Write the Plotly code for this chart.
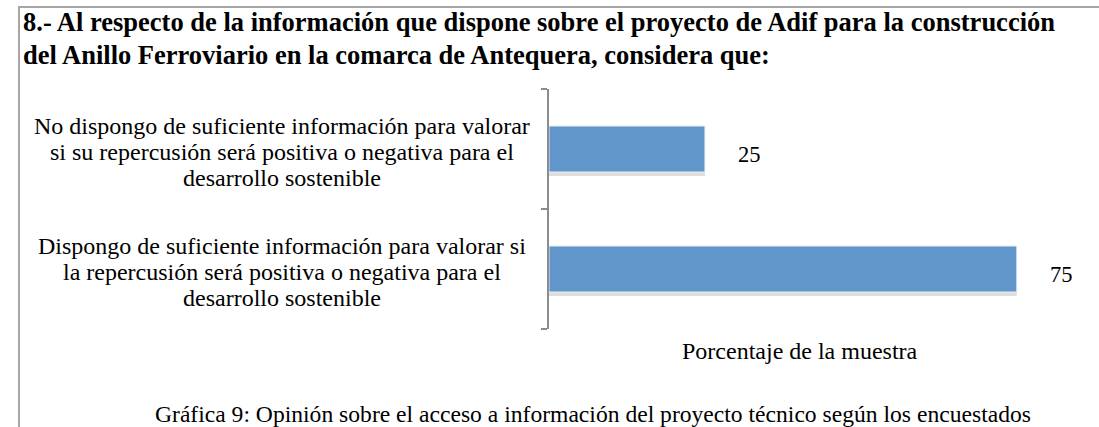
import plotly.graph_objects as go

# ---- data ----
categories = [
    "Dispongo de suficiente información para valorar si<br>la repercusión será positiva o negativa para el<br>desarrollo sostenible",
    "No dispongo de suficiente información para valorar<br>si su repercusión será positiva o negativa para el<br>desarrollo sostenible",
]
values = [75, 25]
title_lines = [
    "8.- Al respecto de la información que dispone sobre el proyecto de Adif para la construcción",
    "del Anillo Ferroviario en la comarca de Antequera, considera que:",
]
x_title = "Porcentaje de la muestra"
caption = "Gráfica 9: Opinión sobre el acceso a información del proyecto técnico según los encuestados"

W, H = 1099, 427
L, T = 549, 89
PW = 499           # x range 0..80
PH = 240           # plot bottom at 329
R, B = W - L - PW, H - T - PH

def px(x):
    return (x - L) / PW

def py(y):
    return 1 - (y - T) / PH

FONT = "Liberation Serif, Times New Roman, serif"
BAR = "#6096c9"
BW = 46 / 120      # bar thickness in category units

fig = go.Figure()
# soft shadow under bars
fig.add_trace(go.Bar(
    x=values, y=categories, orientation="h",
    width=BW, offset=-BW / 2 - 4 / 120,
    marker=dict(color="rgba(0,0,0,0.13)", line=dict(width=0)),
    hoverinfo="skip",
))
fig.add_trace(go.Bar(
    x=values, y=categories, orientation="h",
    width=BW, offset=-BW / 2,
    marker=dict(color=BAR, line=dict(color="#e8f0f8", width=1)),
    hoverinfo="x",
))

ann = []
LBL = dict(family=FONT, size=24, color="#000")
# category labels: each line centred on a common axis, tight line spacing
for c in categories:
    lines = c.split("<br>")
    n = len(lines)
    for i, line in enumerate(lines):
        ann.append(dict(x=px(282), y=c, xref="paper", yref="y", text=line, showarrow=False,
                        xanchor="center", yanchor="middle",
                        yshift=-((i - (n - 1) / 2) * 26 + 3),
                        font=LBL))
# value labels
for v, c in zip(values, categories):
    ann.append(dict(x=v, y=c, xref="x", yref="y", text=str(v), showarrow=False,
                    xanchor="center", yanchor="middle", xshift=45, yshift=-5,
                    font=dict(family=FONT, size=22.5, color="#000")))
# titles
TF = dict(family=FONT, size=26.5, color="#000")
ann.append(dict(x=px(21), y=py(22), xref="paper", yref="paper", text="<b>%s</b>" % title_lines[0],
                showarrow=False, xanchor="left", yanchor="middle", font=TF))
ann.append(dict(x=px(21), y=py(55), xref="paper", yref="paper", text="<b>%s</b>" % title_lines[1],
                showarrow=False, xanchor="left", yanchor="middle", font=TF))
# x axis title
ann.append(dict(x=px(800), y=py(351), xref="paper", yref="paper", text=x_title,
                showarrow=False, xanchor="center", yanchor="middle", font=LBL))
# caption
ann.append(dict(x=px(593), y=py(414), xref="paper", yref="paper", text=caption,
                showarrow=False, xanchor="center", yanchor="middle",
                font=dict(family=FONT, size=23.6, color="#000")))

shapes = [
    dict(type="line", xref="paper", yref="paper", x0=px(18), x1=px(1100), y0=py(7), y1=py(7),
         line=dict(color="#a6a6a6", width=2), layer="above"),
    dict(type="line", xref="paper", yref="paper", x0=px(19), x1=px(19), y0=py(6), y1=py(430),
         line=dict(color="#a6a6a6", width=2)),
]

fig.update_layout(
    width=W, height=H,
    margin=dict(l=L, r=R, t=T, b=B),
    paper_bgcolor="white", plot_bgcolor="white",
    showlegend=False,
    barmode="overlay",
    annotations=ann, shapes=shapes,
    xaxis=dict(range=[0, 80], visible=False, fixedrange=True),
    yaxis=dict(showticklabels=False, showline=True, linecolor="#8c8c8c", linewidth=2,
               ticks="outside", ticklen=6, tickcolor="#8c8c8c", tickwidth=2,
               tickson="boundaries", showgrid=False, zeroline=False, fixedrange=True),
)

fig.write_html("out.html",
               config={"displayModeBar": False},
               post_script="document.body.style.margin='0';document.body.style.overflow='hidden';")
